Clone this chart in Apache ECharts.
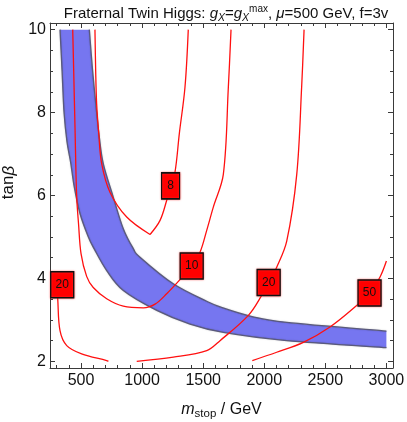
<!DOCTYPE html>
<html>
<head>
<meta charset="utf-8">
<script src="https://cdn.jsdelivr.net/npm/echarts@6/dist/echarts.min.js"></script>
<style>
  html, body { margin: 0; padding: 0; background: #fff; }
  #main { width: 407px; height: 422px; }
</style>
</head>
<body>
<div id="main"></div>
<script>
// axis ticks
var xMajor = [500, 1000, 1500, 2000, 2500, 3000];
var xMinor = [300, 400, 600, 700, 800, 900, 1100, 1200, 1300, 1400, 1600, 1700, 1800, 1900,
  2100, 2200, 2300, 2400, 2600, 2700, 2800, 2900];
var yMajor = [2, 4, 6, 8, 10];
var yMinor = [2.5, 3, 3.5, 4.5, 5, 5.5, 6.5, 7, 7.5, 8.5, 9, 9.5];

// blue band: lower (left) edge and upper (right) edge, [m_stop, tanβ]
var bandLower = [[328, 10], [345, 9], [361, 8], [385, 7.3], [415, 6.8], [445, 6.2], [492, 5.56],
  [560, 5.0], [610, 4.7], [710, 4.19], [846, 3.71], [1120, 3.23], [1392, 2.9], [1665, 2.7],
  [2184, 2.5], [3000, 2.33]];
var bandUpper = [[568, 10], [595, 9], [628, 8], [650, 7.4], [682, 6.77], [764, 5.96], [846, 5.2],
  [928, 4.72], [983, 4.51], [1255, 3.87], [1529, 3.45], [1650, 3.3], [1900, 3.08], [2184, 2.94], [3000, 2.73]];

// red contours
var c8Left = [[614, 10], [620, 9], [628, 8.2], [645, 7.5], [669, 6.77], [737, 6.08], [874, 5.48], [1065, 5.06]];
var c8Right = [[1065, 5.06], [1147, 5.4], [1201, 5.88], [1233, 6.23], [1269, 6.56], [1305, 7.5], [1351, 8.61], [1378, 10]];
var c10 = [[432, 10], [440, 9], [451, 7.6], [464, 6.0], [480, 5.3], [500, 4.6], [546, 4.05], [600, 3.78],
  [710, 3.51], [846, 3.33], [1010, 3.29], [1106, 3.38], [1201, 3.63], [1310, 3.97], [1406, 4.3],
  [1474, 4.63], [1529, 5.16], [1583, 5.72], [1665, 6.51], [1706, 8.61], [1728, 10]];
var c20a = [[300, 3.9], [309, 3.52], [328, 2.74], [383, 2.38], [505, 2.18], [710, 2.02], [724, 2.0]];
var c20b = [[956, 2.0], [1256, 2.1], [1529, 2.26], [1638, 2.5], [1870, 3.11], [1979, 3.59], [2036, 3.9],
  [2102, 4.27], [2184, 4.9], [2266, 6.51], [2306, 8.61], [2326, 10]];
var c50 = [[1902, 2.02], [2102, 2.22], [2320, 2.46], [2538, 2.83], [2757, 3.35], [2862, 3.65], [2947, 4.03], [3000, 4.42]];

// contour labels [m_stop, tanβ, text]
var contourLabels = [[1233, 6.23, '8'], [1406, 4.3, '10'], [346, 3.85, '20'], [2036, 3.9, '20'], [2862, 3.65, '50']];

var FONT = 'Liberation Sans, Arial, sans-serif';
var FRAME = '#3a3a3a';

// catmull-rom through pixel points -> svg path commands
function smoothPath(pts, move) {
  var d = (move ? 'M' : 'L') + pts[0][0] + ',' + pts[0][1];
  for (var i = 0; i < pts.length - 1; i++) {
    var p0 = pts[i - 1] || pts[i], p1 = pts[i], p2 = pts[i + 1], p3 = pts[i + 2] || p2;
    var c1x = p1[0] + (p2[0] - p0[0]) / 6, c1y = p1[1] + (p2[1] - p0[1]) / 6;
    var c2x = p2[0] - (p3[0] - p1[0]) / 6, c2y = p2[1] - (p3[1] - p1[1]) / 6;
    d += 'C' + c1x + ',' + c1y + ' ' + c2x + ',' + c2y + ' ' + p2[0] + ',' + p2[1];
  }
  return d;
}

function xAxisDef(pos, ticks, len, withLabel, withLine) {
  return {
    type: 'value', position: pos, min: 246, max: 3054,
    axisLine: { show: withLine, lineStyle: { color: FRAME, width: 1 } },
    axisTick: { show: true, inside: true, length: len, customValues: ticks, lineStyle: { color: FRAME } },
    axisLabel: withLabel ? {
      show: true, customValues: ticks, margin: 5, color: '#111', fontSize: 16, fontFamily: FONT,
      formatter: function (v) { return String(v); }
    } : { show: false },
    splitLine: { show: false }
  };
}
function yAxisDef(pos, ticks, len, withLabel, withLine) {
  return {
    type: 'value', position: pos, min: 1.84, max: 10.16,
    axisLine: { show: withLine, lineStyle: { color: FRAME, width: 1 } },
    axisTick: { show: true, inside: true, length: len, customValues: ticks, lineStyle: { color: FRAME } },
    axisLabel: withLabel ? {
      show: true, customValues: ticks, margin: 4, color: '#111', fontSize: 16, fontFamily: FONT,
      formatter: function (v) { return String(v); }
    } : { show: false },
    splitLine: { show: false }
  };
}

var myChart = echarts.init(document.getElementById('main'), null, { renderer: 'canvas' });

var redLine = function (data) {
  return {
    type: 'line', data: data, smooth: 0.35, symbol: 'none', z: 3, silent: true,
    lineStyle: { color: '#ff1010', width: 1.3 }
  };
};

var option = {
  animation: false,
  title: {
    left: 221, top: -1, textAlign: 'center',
    text: 'Fraternal Twin Higgs: {i|g}{sub|X}={i|g}{sub|X}{sup|max}, {i|μ}=500 GeV, f=3v',
    textStyle: {
      fontSize: 15, fontWeight: 'normal', color: '#111', fontFamily: FONT, lineHeight: 20,
      rich: {
        i: { fontStyle: 'italic', fontSize: 15, fontFamily: FONT, color: '#111' },
        sub: { fontStyle: 'italic', fontSize: 10.5, fontFamily: FONT, color: '#111', verticalAlign: 'bottom', lineHeight: 20 },
        sup: { fontSize: 10, fontFamily: FONT, color: '#111', verticalAlign: 'top', lineHeight: 20 }
      }
    }
  },
  grid: { left: 50, right: 14, top: 23, bottom: 54, containLabel: false, outerBoundsMode: 'none' },
  xAxis: [
    Object.assign(xAxisDef('bottom', xMajor, 5, true, true), {
      name: '{i|m}{sub|stop} / GeV', nameLocation: 'middle', nameGap: 31,
      nameTextStyle: {
        fontSize: 16, color: '#111', fontFamily: FONT, lineHeight: 21,
        rich: {
          i: { fontStyle: 'italic', fontSize: 16, fontFamily: FONT, color: '#111' },
          sub: { fontSize: 11.5, fontFamily: FONT, color: '#111', verticalAlign: 'bottom', lineHeight: 21 }
        }
      }
    }),
    xAxisDef('bottom', xMinor, 3, false, false),
    xAxisDef('top', xMajor, 5, false, true),
    xAxisDef('top', xMinor, 3, false, false)
  ],
  yAxis: [
    Object.assign(yAxisDef('left', yMajor, 5, true, true), {
      name: 'tan{i|β}', nameLocation: 'middle', nameGap: 25, nameRotate: 90,
      nameTextStyle: {
        fontSize: 17, color: '#111', fontFamily: FONT, padding: [0, 0, 0, 26],
        rich: { i: { fontStyle: 'italic', fontSize: 17, fontFamily: FONT, color: '#111' } }
      }
    }),
    yAxisDef('left', yMinor, 3, false, false),
    yAxisDef('right', yMajor, 5, false, true),
    yAxisDef('right', yMinor, 3, false, false)
  ],
  series: [
    {
      type: 'custom', z: 2, silent: true, clip: true,
      data: [[0, 0]],
      renderItem: function (params, api) {
        var lo = bandLower.map(function (p) { return api.coord(p); });
        var up = bandUpper.map(function (p) { return api.coord(p); });
        var upRev = up.slice().reverse();
        var fill = smoothPath(lo, true) + smoothPath(upRev, false) + 'Z';
        var edge = { fill: null, stroke: '#5a5a7c', lineWidth: 1.3, shadowColor: 'rgba(0,0,0,0.25)', shadowBlur: 1.5 };
        return {
          type: 'group',
          children: [
            { type: 'path', shape: { pathData: fill }, style: { fill: '#7676f0', stroke: null } },
            { type: 'path', shape: { pathData: smoothPath(lo, true) }, style: edge },
            { type: 'path', shape: { pathData: smoothPath(up, true) }, style: edge }
          ]
        };
      }
    },
    redLine(c8Left), redLine(c8Right), redLine(c10), redLine(c20a), redLine(c20b), redLine(c50),
    {
      type: 'scatter', z: 5, silent: true,
      data: contourLabels.map(function (d) {
        return { value: [d[0], d[1]], name: d[2], symbolSize: [d[2].length > 1 ? 23 : 18, 26] };
      }),
      symbol: 'rect',
      itemStyle: {
        color: '#ff0000', borderColor: '#111', borderWidth: 1.4, opacity: 1,
        shadowColor: 'rgba(255,60,60,0.7)', shadowBlur: 2
      },
      label: {
        show: true, position: 'inside', formatter: '{b}',
        color: '#111', fontSize: 12, fontFamily: FONT
      }
    }
  ]
};

myChart.setOption(option);
window.addEventListener('resize', myChart.resize, { passive: true });
</script>
</body>
</html>
